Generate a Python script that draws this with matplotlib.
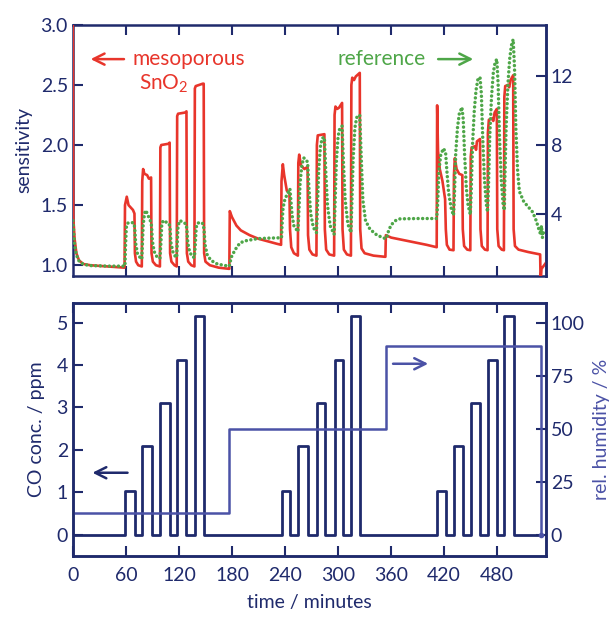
# co_response.py
# sensor response of mesoporous SnO2 vs reference to CO pulses
# at three humidity levels -- top: sensitivity, bottom: gas profile

import numpy as np
import matplotlib
matplotlib.use("Agg")
import matplotlib.pyplot as plt

plt.rcParams["font.family"] = ["Lato", "DejaVu Sans"]
plt.rcParams["mathtext.default"] = "regular"

NAVY  = "#1f2a6c"
RED   = "#e8352b"
GREEN = "#4ea648"
HUMID = "#4b52a6"

# --- mesoporous SnO2 (left axis, sensitivity) ---
red_time = [0, 0.5, 2, 4, 7, 12, 20, 40, 58.5,
            59, 61, 63, 68, 69.7, 70.2, 71.5, 74, 78,
            78.5, 79.5, 81, 84, 86, 88.5, 89, 90.5, 94, 98.5,
            99, 100, 108, 109.5, 110, 111.5, 115, 117.5,
            118, 119, 127, 128.5, 129, 130.5, 134, 137.5,
            138, 139, 147, 148, 148.5, 150, 155, 165, 177,
            177.5, 180, 185, 190, 200, 210, 220, 230, 235.5,
            236, 237.5, 239, 242, 245, 245.6, 247, 250, 254.5,
            255, 256, 258, 262, 265.5, 266, 267.5, 271, 275.5,
            276, 277, 284.5, 285, 286.5, 290, 295.5,
            296, 297, 299, 301, 304.5, 305, 306.5, 310, 314.5,
            315, 316, 318, 320, 324.5, 325, 326.5, 330, 340, 353.5,
            354, 360, 380, 400, 411.5,
            412, 413, 415, 418, 421, 421.8, 423, 426, 430.5,
            431, 432, 434, 437, 440.5, 441, 442.5, 446, 449.5,
            450, 451, 455, 456, 457, 460.5, 461, 462.5, 466, 469,
            469.4, 470.5, 474, 475.5, 477, 479.5, 480, 481.5, 485, 487.5,
            488, 489, 492, 493.5, 495, 498, 498.5, 500, 504, 515, 528.5,
            529, 530, 535]
red_sens = [3.2, 1.4, 1.22, 1.1, 1.04, 1.01, 1.0, 0.99, 0.98,
            1.5, 1.57, 1.5, 1.46, 1.43, 1.1, 1.03, 1.0, 0.99,
            1.7, 1.8, 1.76, 1.75, 1.72, 1.73, 1.1, 1.03, 1.0, 0.99,
            1.98, 2.0, 2.01, 2.02, 1.1, 1.03, 1.0, 0.99,
            2.24, 2.26, 2.27, 2.28, 1.1, 1.03, 1.0, 0.99,
            2.47, 2.49, 2.51, 2.51, 1.1, 1.03, 1.0, 0.98, 0.97,
            1.45, 1.4, 1.33, 1.29, 1.25, 1.22, 1.2, 1.18, 1.17,
            1.7, 1.84, 1.75, 1.62, 1.6, 1.3, 1.15, 1.1, 1.08,
            1.85, 1.92, 1.83, 1.8, 1.82, 1.25, 1.13, 1.09, 1.08,
            2.0, 2.08, 2.09, 1.3, 1.13, 1.09, 1.08,
            2.25, 2.32, 2.3, 2.31, 2.35, 1.3, 1.13, 1.09, 1.08,
            2.5, 2.56, 2.54, 2.57, 2.6, 1.3, 1.14, 1.1, 1.08, 1.07,
            1.25, 1.23, 1.2, 1.17, 1.15,
            2.33, 1.95, 1.8, 1.7, 1.55, 1.3, 1.17, 1.13, 1.125,
            1.75, 1.89, 1.8, 1.76, 1.75, 1.3, 1.16, 1.13, 1.125,
            1.9, 1.98, 1.99, 1.96, 2.03, 2.05, 1.3, 1.16, 1.13, 1.125,
            2.1, 2.21, 2.22, 2.2, 2.27, 2.3, 1.3, 1.16, 1.13, 1.125,
            2.4, 2.49, 2.5, 2.48, 2.54, 2.58, 1.3, 1.16, 1.13, 1.11, 1.09,
            0.85, 0.97, 1.02]

# --- reference sensor (right axis) ---
green_time = [0, 1, 2, 4, 7, 12, 20, 40, 59,
              59.5, 60.5, 62, 66, 69, 70, 71, 73, 76, 78,
              78.5, 79.5, 81, 82.5, 85, 88, 89, 90, 92, 95, 98.5,
              99.5, 100.5, 102, 106, 109, 110, 111, 113, 116, 117.5,
              118, 119, 121, 125, 128, 129, 130, 132, 135, 137.5,
              138.5, 139.5, 141, 145, 147.5, 148.5, 149.5, 152, 156, 162, 170, 177,
              178, 179.5, 183.5, 189, 195, 209, 222, 236,
              236.5, 237.5, 239, 242, 245.5, 246.5, 248, 250, 254.5,
              255.5, 257, 259, 261, 263, 265.5, 267, 269, 272, 275.5,
              276.5, 278, 280, 282, 284.5, 286, 288, 291, 295.5,
              296.5, 298, 300, 302, 304.5, 306, 308, 311, 314.5,
              315.5, 317, 319, 321, 324.5, 326, 328, 331, 336, 344, 353.5,
              355, 357, 360, 365, 370, 390, 411.5,
              412.5, 414, 416, 419, 421.5, 423, 425, 428, 430.5,
              431.5, 433, 435, 437, 440, 441.5, 443, 445, 447, 449.5,
              450.5, 452, 454, 456, 458, 460.5, 462, 463.5, 465.5, 467.5, 469,
              470, 471.5, 473.5, 475.5, 477.5, 479.5, 481, 482.5, 484.5, 486.5, 488,
              488.5, 490, 492, 494, 496, 498, 499.5, 501, 503, 505, 510, 515,
              520, 524, 527, 529, 530, 531, 533]
green_resp = [3.6, 2.9, 2.2, 1.6, 1.25, 1.05, 0.98, 0.95, 0.95,
              2.0, 3.2, 3.45, 3.5, 3.45, 3.2, 2.3, 1.7, 1.45, 1.35,
              2.0, 3.3, 4.0, 4.2, 3.9, 3.55, 3.3, 2.4, 1.8, 1.5, 1.4,
              2.2, 3.3, 3.6, 3.5, 3.4, 3.1, 2.3, 1.8, 1.5, 1.45,
              2.2, 3.3, 3.6, 3.5, 3.4, 3.1, 2.3, 1.8, 1.5, 1.45,
              2.2, 3.2, 3.45, 3.5, 3.4, 3.0, 2.2, 1.6, 1.3, 1.1, 1.0, 0.95,
              1.2, 1.5, 1.9, 2.3, 2.42, 2.55, 2.58, 2.6,
              3.2, 4.2, 4.7, 5.1, 5.45, 4.8, 3.9, 3.3, 2.95,
              4.0, 5.8, 6.8, 7.25, 7.2, 7.0, 5.5, 4.0, 3.2, 2.9,
              4.2, 6.5, 7.9, 8.4, 8.45, 6.5, 4.5, 3.3, 2.8,
              4.5, 7.0, 8.5, 9.0, 9.1, 7.0, 4.8, 3.4, 2.9,
              4.5, 7.2, 9.0, 9.6, 9.75, 7.5, 4.8, 3.6, 3.1, 2.75, 2.55,
              2.6, 3.0, 3.35, 3.6, 3.7, 3.72, 3.72,
              4.5, 6.5, 7.4, 7.8, 7.6, 6.5, 5.2, 4.3, 3.9,
              5.0, 7.5, 9.0, 9.8, 10.2, 9.5, 7.5, 5.5, 4.5, 3.95,
              5.2, 8.0, 10.0, 11.2, 11.8, 11.95, 11.0, 8.5, 6.0, 4.6, 4.1,
              5.5, 8.5, 10.8, 12.2, 12.8, 13.0, 11.5, 8.5, 6.0, 4.6, 4.2,
              5.8, 9.0, 11.5, 13.0, 13.8, 14.15, 12.5, 9.0, 6.5, 5.3, 4.7, 4.4,
              4.1, 3.6, 3.1, 2.8, 3.3, 2.6, 3.1]

# --- gas profile (bottom panel) ---
co_on    = [59, 78, 99, 117.5, 138, 236, 255, 276, 296, 315,
            412, 431, 450, 469.4, 488]
co_off   = [70, 89, 110, 128.5, 148, 245.6, 266, 285, 305, 325,
            421.8, 440.8, 460.8, 479.6, 498.5]
co_level = [1.04, 2.08, 3.1, 4.13, 5.15] * 3
co_end   = 529

hum_time  = [0, 177, 354, 529]
hum_value = [10, 50, 89, 0]

xticks = [0, 60, 120, 180, 240, 300, 360, 420, 480]


def style_axis(ax, color=NAVY):
    for sp in ax.spines.values():
        sp.set_color(color)
        sp.set_linewidth(1.8)
    ax.tick_params(direction="in", length=7, width=1.5, color=color,
                   labelcolor=color, labelsize=14)


fig = plt.figure(figsize=(6.12, 6.19), dpi=100)
ax1 = fig.add_axes([0.119, 0.554, 0.773, 0.406])
ax1r = ax1.twinx()
ax2 = fig.add_axes([0.119, 0.102, 0.773, 0.409])
ax2r = ax2.twinx()

# top panel -- red drawn over its own left spine (the t=0 spike),
# dotted reference drawn over the red trace
ax1.plot(red_time, red_sens, color=RED, lw=1.9, zorder=3, clip_on=True)
ax1r.plot(green_time, green_resp, color=GREEN, lw=2.5,
          linestyle=(0, (0.01, 1.3)), dash_capstyle="round")

ax1.set_xlim(0, 535)
ax1.set_ylim(0.91, 3.0)
ax1r.set_ylim(0.37, 15.0)
ax1.set_yticks([1.0, 1.5, 2.0, 2.5, 3.0])
ax1.set_yticklabels(["1.0", "1.5", "2.0", "2.5", "3.0"])
ax1r.set_yticks([4, 8, 12])
ax1.set_xticks(xticks[1:])
ax1.set_ylabel("sensitivity", color=NAVY, fontsize=14, labelpad=6)
for a in (ax1, ax1r):
    style_axis(a)
ax1.tick_params(axis="x", top=True, labelbottom=False)
for side in ("left", "top", "bottom"):
    ax1r.spines[side].set_visible(False)

ax1r.annotate("", xy=(17, 13.0), xytext=(61, 13.0), xycoords="data",
              arrowprops=dict(arrowstyle="->", color=RED, lw=1.8, mutation_scale=20))
ax1r.text(67, 13.0, "mesoporous", color=RED, fontsize=15, va="center", ha="left")
ax1r.text(75, 11.55, "SnO$_2$", color=RED, fontsize=15, va="center", ha="left")
ax1r.text(299, 13.0, "reference", color=GREEN, fontsize=15, va="center", ha="left")
ax1r.annotate("", xy=(456, 13.0), xytext=(410, 13.0),
              arrowprops=dict(arrowstyle="->", color=GREEN, lw=1.8, mutation_scale=20))

# bottom panel: build CO step trace from pulse table
co_t = [0]
co_c = [0]
for on, off, lvl in zip(co_on, co_off, co_level):
    co_t += [on, on, off, off]
    co_c += [0, lvl, lvl, 0]
co_t.append(co_end)
co_c.append(0)

ax2.plot(co_t, co_c, color=NAVY, lw=2.0)
ax2r.step(hum_time, hum_value, where="post", color=HUMID, lw=1.8)
ax2r.plot(hum_time[-1], hum_value[-1], "o", color=HUMID, ms=3)

ax2.set_xlim(0, 535)
ax2.set_ylim(-0.5, 5.47)
ax2r.set_ylim(-10, 109.4)
ax2.set_yticks([0, 1, 2, 3, 4, 5])
ax2r.set_yticks([0, 25, 50, 75, 100])
ax2.set_xticks(xticks)
for a in (ax2, ax2r):
    style_axis(a)
ax2.tick_params(axis="x", top=True, pad=8)
ax2.set_xlabel("time / minutes", color=NAVY, fontsize=14, labelpad=7)
ax2.set_ylabel("CO conc. / ppm", color=NAVY, fontsize=14, labelpad=8)
ax2r.set_ylabel("rel. humidity / %", color=HUMID, fontsize=14, labelpad=6)

ax2.annotate("", xy=(19, 1.46), xytext=(65, 1.46),
             arrowprops=dict(arrowstyle="->", color=NAVY, lw=1.8, mutation_scale=20))
ax2.annotate("", xy=(405, 4.03), xytext=(359, 4.03),
             arrowprops=dict(arrowstyle="->", color=HUMID, lw=1.8, mutation_scale=20))

fig.savefig("out.png", dpi=100)
